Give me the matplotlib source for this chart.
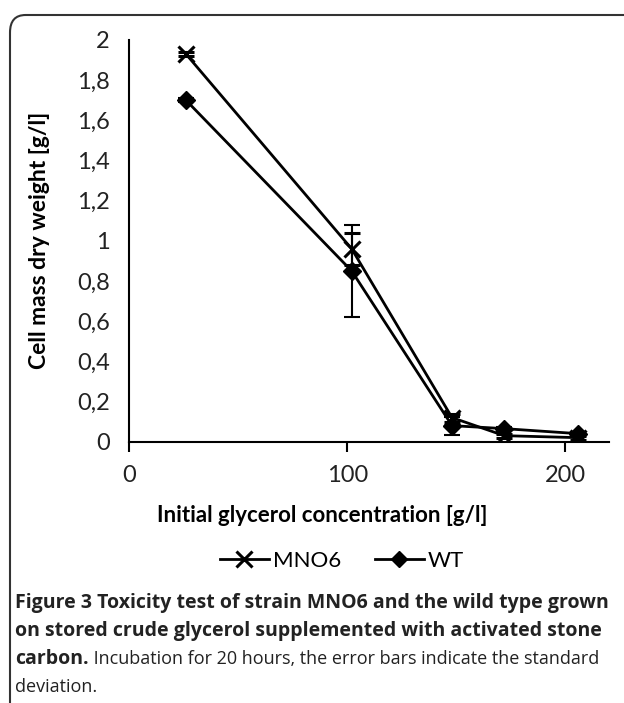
import matplotlib.pyplot as plt
from matplotlib.patches import FancyBboxPatch
from matplotlib.lines import Line2D

plt.rcParams['font.family'] = ['Lato', 'DejaVu Sans']

# data
conc = [26, 102, 148, 172, 206]
mno6 = [1.93, 0.96, 0.12, 0.03, 0.02]
mno6_err = [0.01, 0.08, 0.02, 0.01, 0.01]
wt = [1.70, 0.85, 0.08, 0.065, 0.04]
wt_err = [0.01, 0.23, 0.045, 0.01, 0.01]
yticks = [0, 0.2, 0.4, 0.6, 0.8, 1, 1.2, 1.4, 1.6, 1.8, 2]
ytick_labels = ['0', '0,2', '0,4', '0,6', '0,8', '1', '1,2', '1,4', '1,6', '1,8', '2']
xticks = [0, 100, 200]

W, H = 624, 703
fig = plt.figure(figsize=(W / 100, H / 100), dpi=100)

# rounded frame clipped at right and bottom
frame = FancyBboxPatch((10 / W, -0.1), 1.2, (H - 15) / H + 0.1,
                       boxstyle="round,pad=0,rounding_size=0.025",
                       transform=fig.transFigure, fill=False,
                       edgecolor='#333333', linewidth=1.5)
fig.patches.append(frame)

ax = fig.add_axes([129.3 / W, (H - 441.7) / H, (609 - 129.3) / W, (441.7 - 40) / H])
ax.errorbar(conc, mno6, yerr=mno6_err, color='black', lw=2, marker='x',
            markersize=11, mew=2.2, capsize=6, elinewidth=1.5, capthick=1.5)
ax.errorbar(conc, wt, yerr=wt_err, color='black', lw=2, marker='D',
            markersize=9, capsize=6, elinewidth=1.5, capthick=1.5)

ax.set_xlim(0, 220)
ax.set_ylim(0, 2)
ax.set_xticks(xticks)
ax.set_yticks(yticks)
ax.set_yticklabels(ytick_labels)
for s in ['top', 'right']:
    ax.spines[s].set_visible(False)
for s in ['left', 'bottom']:
    ax.spines[s].set_linewidth(1.5)
    ax.spines[s].set_clip_on(False)
ax.tick_params(axis='y', length=0, pad=14, labelsize=17, colors='#222222')
ax.tick_params(axis='x', length=7, width=1.5, direction='out', pad=10, labelsize=17,
               colors='#222222')
ax.tick_params(axis='both', color='black')

ax.set_ylabel('Cell mass dry weight [g/l]', fontsize=16.5, fontweight='bold')
ax.yaxis.set_label_coords(-0.165, 0.5)
ax.set_xlabel('Initial glycerol concentration [g/l]', fontsize=16, fontweight='bold')
ax.xaxis.set_label_coords((322 - 129.3) / (609 - 129.3), -(516 - 441.7) / (441.7 - 40))
ax.xaxis.label.set_va('center')

handles = [Line2D([], [], color='black', lw=2, marker='x', markersize=11, mew=2.2),
           Line2D([], [], color='black', lw=2, marker='D', markersize=8)]
fig.legend(handles, ['MNO6', 'WT'], loc='center', bbox_to_anchor=(342 / W, 1 - 561 / H),
           ncol=2, frameon=False, fontsize=16, handlelength=2.2, handletextpad=0.2,
           columnspacing=1.5)

# caption
cap_font = ['Open Sans', 'DejaVu Sans']
cx = 15 / W
fs = 14.0
fs_reg = 13.0
rows = [603, 631, 659, 687]
fig.text(cx, 1 - rows[0] / H, 'Figure 3 Toxicity test of strain MNO6 and the wild type grown',
         fontsize=fs, fontweight='bold', family=cap_font, va='center', color='#222222')
fig.text(cx, 1 - rows[1] / H, 'on stored crude glycerol supplemented with activated stone',
         fontsize=fs, fontweight='bold', family=cap_font, va='center', color='#222222')
t = fig.text(cx, 1 - rows[2] / H, 'carbon.', fontsize=fs, fontweight='bold',
             family=cap_font, va='center', color='#222222')
fig.canvas.draw()
bb = t.get_window_extent().transformed(fig.transFigure.inverted())
fig.text(bb.x1, 1 - rows[2] / H, ' Incubation for 20 hours, the error bars indicate the standard',
         fontsize=fs_reg, family=cap_font, va='center', color='#222222')
fig.text(cx, 1 - rows[3] / H, 'deviation.', fontsize=fs_reg, family=cap_font, va='center',
         color='#222222')

fig.savefig('out.png', dpi=100)
